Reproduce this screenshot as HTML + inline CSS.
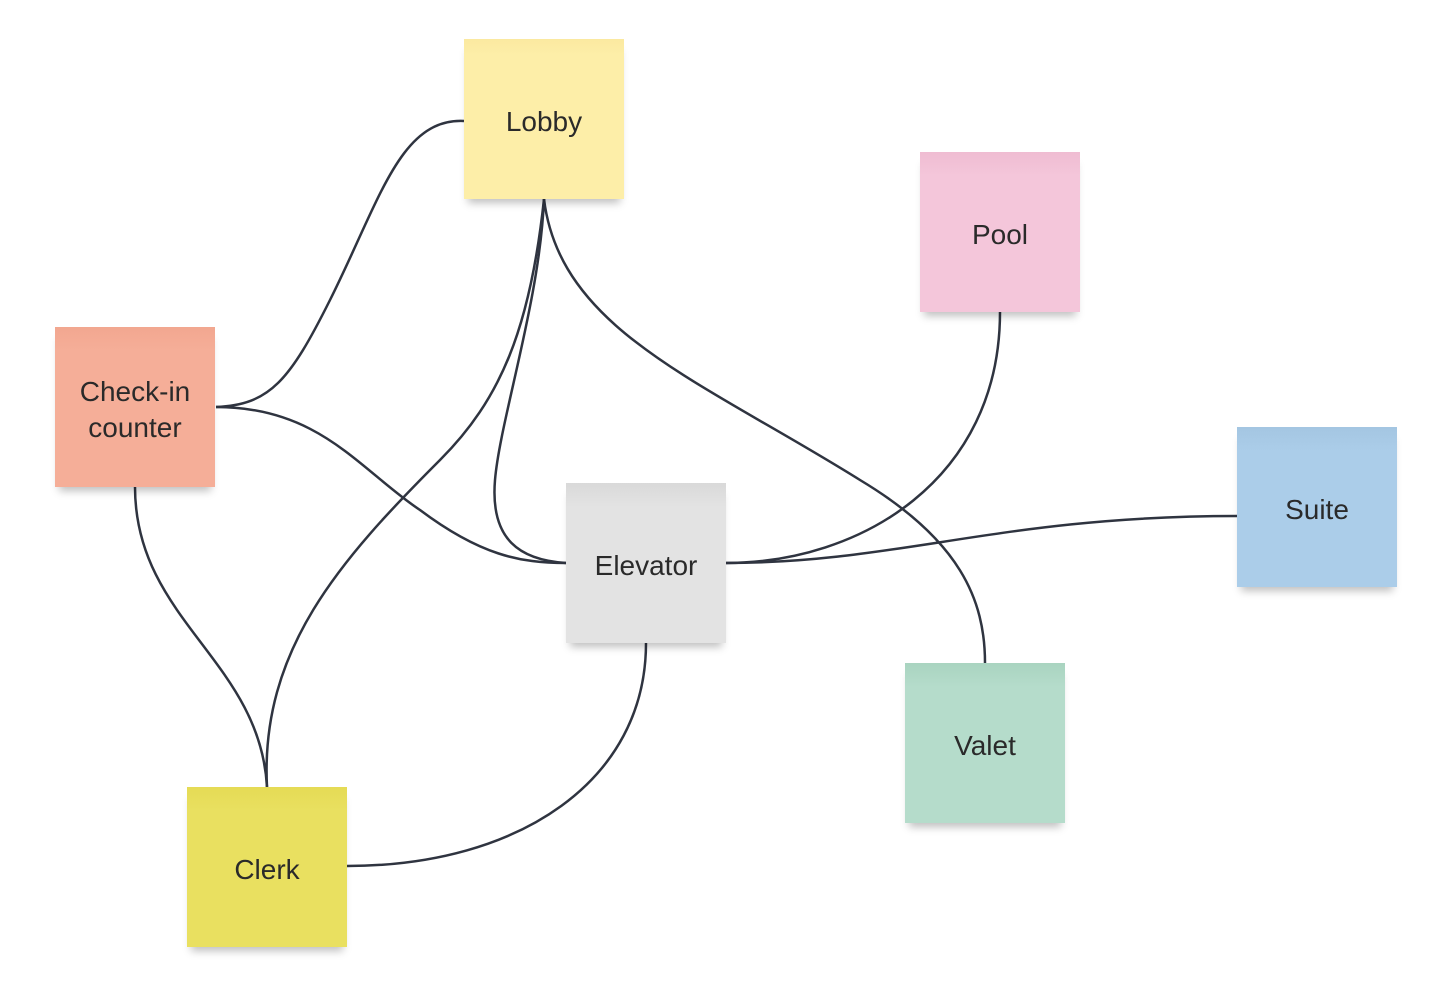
<!DOCTYPE html>
<html><head><style>
body{margin:0;width:1454px;height:1006px;background:#fff;position:relative;overflow:hidden;font-family:"Liberation Sans",sans-serif}
svg{position:absolute;left:0;top:0}
.n{position:absolute;width:160px;height:160px;box-sizing:border-box;padding-top:5px;display:flex;align-items:center;justify-content:center;text-align:center;font-size:28px;color:#2a2a2a;line-height:36px;box-shadow:0 8px 8px -4px rgba(0,0,0,0.25)}
</style></head><body>
<svg width="1454" height="1006" fill="none" stroke="#2f3440" stroke-width="2.5">
<path d="M464,121 C400,118 380,200 330,300 C290,380 270,405 216,407"/>
<path d="M216,407 C320,407 360,470 420,510 C480,555 520,563 566,563"/>
<path d="M544,199 C540,300 500,420 495,480 C490,540 520,560 566,563"/>
<path d="M544,199 C530,330 500,400 440,460 C340,560 260,650 267,787"/>
<path d="M544,199 C560,330 700,380 860,480 C960,540 985,600 985,663"/>
<path d="M135,487 C135,620 260,660 267,787"/>
<path d="M1000,312 C1000,480 860,563 726,563"/>
<path d="M726,563 C900,563 1000,516 1237,516"/>
<path d="M646,643 C646,780 520,866 347,866"/>
</svg>
<div class="n" style="left:464px;top:39px;background:linear-gradient(#fbe9a0,#fdeea8 10%,#fdeea8)">Lobby</div>
<div class="n" style="left:920px;top:152px;background:linear-gradient(#efbcd2,#f4c6da 15%)">Pool</div>
<div class="n" style="left:55px;top:327px;background:linear-gradient(#f2a790,#f5ae98 15%)">Check-in<br>counter</div>
<div class="n" style="left:1237px;top:427px;background:linear-gradient(#a4c6e2,#abcde9 15%)">Suite</div>
<div class="n" style="left:566px;top:483px;background:linear-gradient(#d9d9d9,#e3e3e3 15%)">Elevator</div>
<div class="n" style="left:905px;top:663px;background:linear-gradient(#a9d4c0,#b5dccb 15%)">Valet</div>
<div class="n" style="left:187px;top:787px;background:linear-gradient(#e5db55,#e9e060 15%)">Clerk</div>
</body></html>
